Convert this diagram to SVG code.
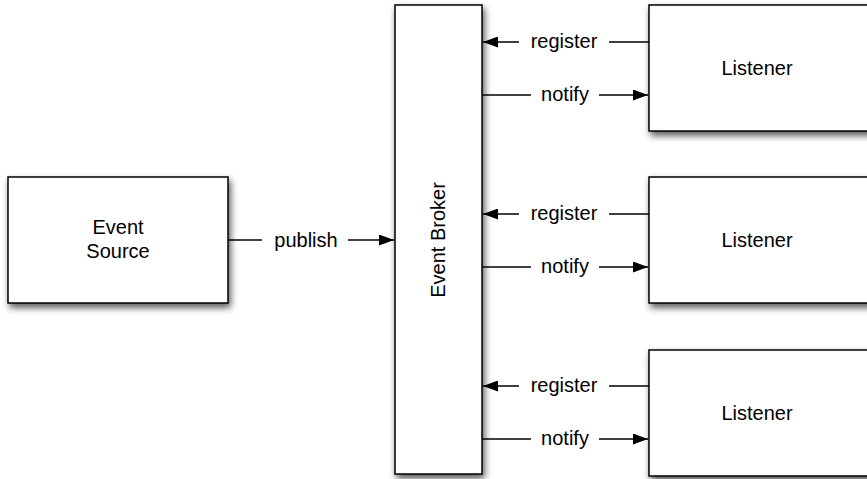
<svg xmlns="http://www.w3.org/2000/svg" width="867" height="479" viewBox="0 0 867 479">
<defs>
<filter id="sh" x="-20%" y="-20%" width="140%" height="140%">
<feDropShadow dx="2" dy="4" stdDeviation="3.5" flood-color="#000" flood-opacity="0.65"/>
</filter>
<marker id="ah" viewBox="0 0 15 11" refX="15" refY="5.5" markerWidth="15" markerHeight="11" markerUnits="userSpaceOnUse" orient="auto">
<path d="M0,0 L15,5.5 L0,11 Z" fill="#000"/>
</marker>
<style>
.box{fill:#fff;stroke:#000;stroke-width:1.5;filter:url(#sh)}
.t{font-family:"Liberation Sans",Arial,sans-serif;font-size:20px;fill:#000;text-anchor:middle}
.c{stroke:#000;stroke-width:1.5;fill:none}
</style>
</defs>
<rect width="867" height="479" fill="#fff"/>
<g id="source"><rect class="box" x="8" y="177" width="220" height="126"/><text class="t" x="118" y="234">Event</text><text class="t" x="118" y="258">Source</text></g>
<g id="broker"><rect class="box" x="395" y="5" width="87" height="469"/><text class="t" transform="translate(445,240) rotate(-90)">Event Broker</text></g>
<g id="listener1"><rect class="box" x="649" y="5" width="225" height="126"/><text class="t" x="757" y="75">Listener</text></g>
<g id="listener2"><rect class="box" x="649" y="177" width="225" height="126"/><text class="t" x="757" y="247">Listener</text></g>
<g id="listener3"><rect class="box" x="649" y="350" width="225" height="126"/><text class="t" x="757" y="420">Listener</text></g>
<g id="connectors">
<line class="c" x1="228" y1="240" x2="262" y2="240"/><line class="c" x1="348" y1="240" x2="394" y2="240" marker-end="url(#ah)"/>
<text class="t" x="306" y="247">publish</text>
<line class="c" x1="649" y1="42" x2="609" y2="42"/><line class="c" x1="519" y1="42" x2="483" y2="42" marker-end="url(#ah)"/>
<text class="t" x="564" y="48">register</text>
<line class="c" x1="482" y1="95" x2="531" y2="95"/><line class="c" x1="599" y1="95" x2="648" y2="95" marker-end="url(#ah)"/>
<text class="t" x="565" y="101">notify</text>
<line class="c" x1="649" y1="214" x2="609" y2="214"/><line class="c" x1="519" y1="214" x2="483" y2="214" marker-end="url(#ah)"/>
<text class="t" x="564" y="220">register</text>
<line class="c" x1="482" y1="267" x2="531" y2="267"/><line class="c" x1="599" y1="267" x2="648" y2="267" marker-end="url(#ah)"/>
<text class="t" x="565" y="273">notify</text>
<line class="c" x1="649" y1="386" x2="609" y2="386"/><line class="c" x1="519" y1="386" x2="483" y2="386" marker-end="url(#ah)"/>
<text class="t" x="564" y="392">register</text>
<line class="c" x1="482" y1="439" x2="531" y2="439"/><line class="c" x1="599" y1="439" x2="648" y2="439" marker-end="url(#ah)"/>
<text class="t" x="565" y="445">notify</text>
</g>
</svg>
